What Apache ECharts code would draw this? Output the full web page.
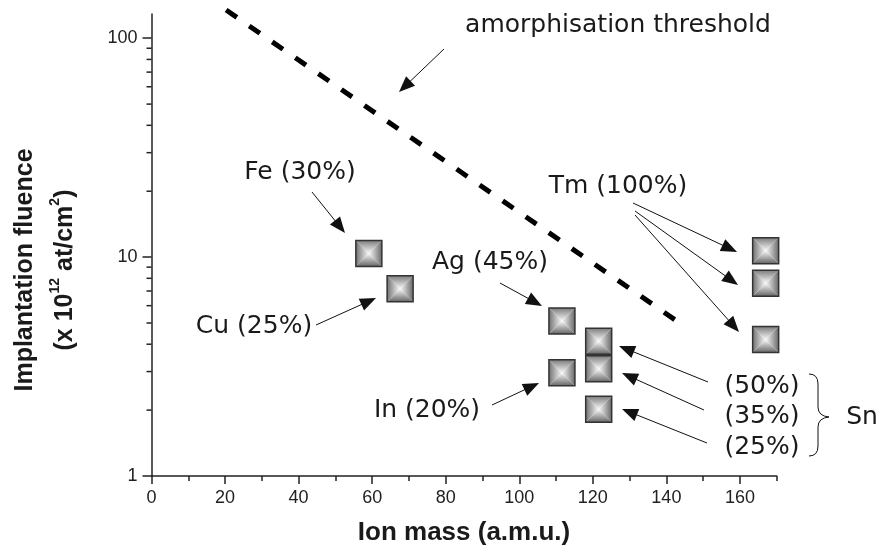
<!DOCTYPE html>
<html>
<head>
<meta charset="utf-8">
<script src="https://cdn.jsdelivr.net/npm/echarts@6/dist/echarts.min.js"></script>
<style>html,body{margin:0;padding:0;background:#fff}#c{width:883px;height:556px}</style>
</head>
<body>
<div id="c"></div>
<script>
// ---- data ----
const ions = ['Fe', 'Cu', 'Ag', 'In', 'Sn', 'Sn', 'Sn', 'Tm', 'Tm', 'Tm'];
const ionMass = [59.1, 67.6, 111.6, 111.6, 121.6, 121.6, 121.6, 167.0, 167.0, 167.0];
const fluence = [10.4, 7.17, 5.11, 2.96, 4.13, 3.09, 2.02, 10.7, 7.6, 4.2];
const thresholdMass = [20.3, 143.1];
const thresholdFluence = [134.5, 5.07];
const xMajorTicks = [0, 20, 40, 60, 80, 100, 120, 140, 160];
const xMinorTicks = [10, 30, 50, 70, 90, 110, 130, 150, 170];
const yMajorTicks = [1, 10, 100];
const yMinorTicks = [2, 3, 4, 5, 6, 7, 8, 9, 20, 30, 40, 50, 60, 70, 80, 90];

const chart = echarts.init(document.getElementById('c'), null, {renderer: 'canvas'});
const AX = '#222';
const labelFont = 'Liberation Sans, Arial, sans-serif';
const annFont = '"DejaVu Sans", sans-serif';

function arrow(x1, y1, x2, y2) {
  const dx = x2 - x1, dy = y2 - y1, L = Math.hypot(dx, dy), ux = dx / L, uy = dy / L;
  const hl = 16, hw = 6.5;
  const bx = x2 - ux * hl, by = y2 - uy * hl;
  return [
    {type: 'line', silent: true, shape: {x1: x1, y1: y1, x2: bx + ux * 2, y2: by + uy * 2}, style: {stroke: '#111', lineWidth: 1}},
    {type: 'polygon', silent: true, shape: {points: [[x2, y2], [bx - uy * hw, by + ux * hw], [bx + uy * hw, by - ux * hw]]}, style: {fill: '#111'}}
  ];
}
function txt(s, x, y) {
  return {type: 'text', silent: true, x: x, y: y, style: {text: s, font: '25px ' + annFont, fill: '#1a1a1a', align: 'center', verticalAlign: 'middle'}};
}
function curve(x1, y1, cx, cy, x2, y2) {
  return {type: 'bezierCurve', silent: true, shape: {x1: x1, y1: y1, cpx1: cx, cpy1: cy, x2: x2, y2: y2}, style: {stroke: '#111', lineWidth: 1, fill: null}};
}
function seg(x1, y1, x2, y2) {
  return {type: 'line', silent: true, shape: {x1: x1, y1: y1, x2: x2, y2: y2}, style: {stroke: '#111', lineWidth: 1}};
}

const graphics = [].concat(
  [txt('amorphisation threshold', 618, 25)],
  arrow(444, 49, 399, 92),
  [txt('Fe (30%)', 300, 172)],
  arrow(312, 192, 345, 233),
  [txt('Cu (25%)', 254, 326)],
  arrow(316, 325, 376, 298),
  [txt('Ag (45%)', 490, 262)],
  arrow(500, 283, 542, 306),
  [txt('In (20%)', 427, 410)],
  arrow(492, 405, 539, 383),
  [txt('Tm (100%)', 618, 186)],
  arrow(633, 203, 737, 252),
  arrow(635, 211, 738, 285),
  arrow(635, 215, 739, 332),
  [txt('(50%)', 762, 386), txt('(35%)', 762, 416), txt('(25%)', 762, 447), txt('Sn', 862, 417)],
  arrow(708, 382, 619, 346),
  arrow(704, 410, 622, 373),
  arrow(707, 443, 622, 409),
  [curve(809, 374, 818, 374, 818, 384), seg(818, 384, 818, 407), curve(818, 407, 818, 416, 829, 417),
   curve(829, 417, 818, 418, 818, 427), seg(818, 427, 818, 446), curve(818, 446, 818, 456, 809, 456)],
  [{type: 'text', silent: true, x: 25, y: 270, rotation: Math.PI / 2,
    style: {text: 'Implantation fluence', font: 'bold 25px ' + labelFont, fill: '#1a1a1a', align: 'center', verticalAlign: 'middle'}},
   {type: 'text', silent: true, x: 63, y: 270, rotation: Math.PI / 2,
    style: {text: '{b|(x 10}{s|12}{b| at/cm}{s|2}{b|)}', align: 'center', verticalAlign: 'middle',
      rich: {b: {font: 'bold 25px ' + labelFont, fill: '#1a1a1a', verticalAlign: 'bottom', lineHeight: 30},
             s: {font: 'bold 14px ' + labelFont, fill: '#1a1a1a', verticalAlign: 'top', lineHeight: 30}}}},
   {type: 'text', silent: true, x: 464, y: 533,
    style: {text: 'Ion mass (a.m.u.)', font: 'bold 26px ' + labelFont, fill: '#1a1a1a', align: 'center', verticalAlign: 'middle'}}]
);

function bevelSquare(params, api) {
  const p = api.coord([api.value(0), api.value(1)]);
  const h = 13, cx = p[0], cy = p[1];
  const x0 = cx - h, y0 = cy - h, x1 = cx + h, y1 = cy + h;
  const mid = '#f8f8f8';
  const g = (a, b, c, d, col) => new echarts.graphic.LinearGradient(a, b, c, d, [{offset: 0, color: col}, {offset: 1, color: mid}]);
  return {
    type: 'group',
    children: [
      {type: 'polygon', shape: {points: [[x0, y0], [x1, y0], [cx, cy]]}, style: {fill: g(0, 0, 0, 1, '#7c7c7c')}},
      {type: 'polygon', shape: {points: [[x0, y1], [x1, y1], [cx, cy]]}, style: {fill: g(0, 1, 0, 0, '#666')}},
      {type: 'polygon', shape: {points: [[x0, y0], [x0, y1], [cx, cy]]}, style: {fill: g(0, 0, 1, 0, '#727272')}},
      {type: 'polygon', shape: {points: [[x1, y0], [x1, y1], [cx, cy]]}, style: {fill: g(1, 0, 0, 0, '#6a6a6a')}},
      {type: 'rect', shape: {x: x0, y: y0, width: 2 * h, height: 2 * h}, style: {fill: null, stroke: '#333', lineWidth: 1.5}}
    ]
  };
}

const xBase = {type: 'value', min: 0, max: 170, position: 'bottom', splitLine: {show: false}};

chart.setOption({
  animation: false,
  backgroundColor: '#fff',
  grid: {left: 151.5, top: 14, right: 106.3, bottom: 80, containLabel: false},
  xAxis: [
    Object.assign({}, xBase, {
      axisLine: {show: true, lineStyle: {color: AX, width: 1.5}},
      axisTick: {show: true, length: 8, customValues: xMajorTicks, lineStyle: {color: AX, width: 1.5}},
      axisLabel: {show: true, customValues: xMajorTicks, margin: 13, fontSize: 18, fontFamily: labelFont, color: AX}
    }),
    Object.assign({}, xBase, {
      axisLine: {show: false},
      axisTick: {show: true, length: 5, customValues: xMinorTicks, lineStyle: {color: AX, width: 1.5}},
      axisLabel: {show: false}
    })
  ],
  yAxis: {
    type: 'log', logBase: 10, min: 1, max: 129, position: 'left', splitLine: {show: false}, minorTick: {show: false},
    axisLine: {show: true, lineStyle: {color: AX, width: 1.5}},
    axisTick: {show: true, length: 9, customValues: yMajorTicks, lineStyle: {color: AX, width: 1.5}},
    axisLabel: {show: true, customValues: yMajorTicks, margin: 14, fontSize: 18, fontFamily: labelFont, color: AX}
  },
  series: [
    {
      name: 'amorphisation threshold', type: 'line', xAxisIndex: 0, yAxisIndex: 0,
      data: thresholdMass.map((m, i) => [m, thresholdFluence[i]]),
      symbol: 'none', clip: false, silent: true,
      lineStyle: {color: '#000', width: 5, type: [13, 15], cap: 'butt'}
    },
    {
      name: 'ions', type: 'custom', xAxisIndex: 0, yAxisIndex: 0,
      data: ionMass.map((m, i) => [m, fluence[i], ions[i]]),
      encode: {x: 0, y: 1}, renderItem: bevelSquare, clip: false, silent: true, z: 5
    }
  ],
  graphic: graphics
});

// y-axis minor ticks placed through the chart's own log scale
const minorTickGraphics = yMinorTicks.map(v => {
  const p = chart.convertToPixel({xAxisIndex: 0, yAxisIndex: 0}, [0, v]);
  return {type: 'line', silent: true, z: 10,
    shape: {x1: p[0] - 5, y1: p[1], x2: p[0], y2: p[1]}, style: {stroke: AX, lineWidth: 1.5}};
});
chart.setOption({graphic: graphics.concat(minorTickGraphics)});
</script>
</body>
</html>
